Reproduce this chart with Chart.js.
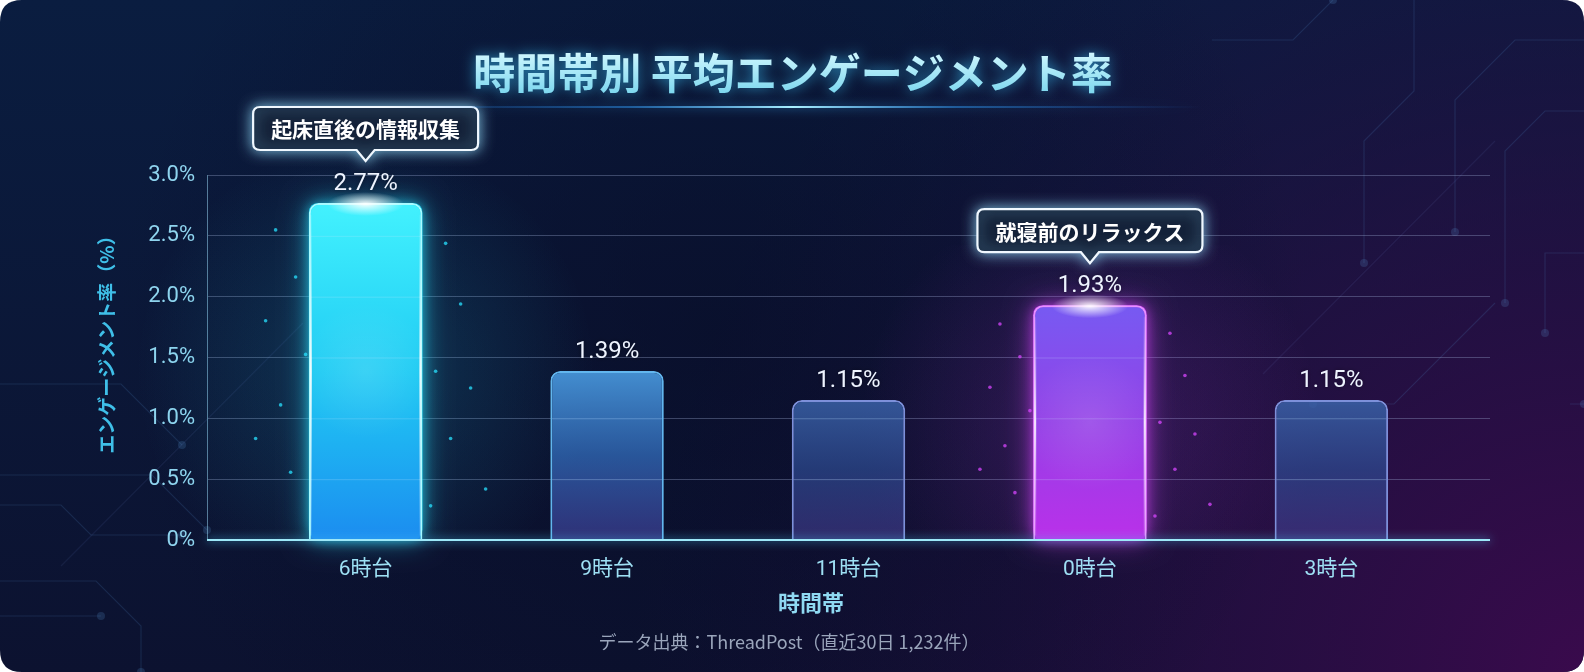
<!DOCTYPE html>
<html><head><meta charset="utf-8">
<script src="https://cdn.jsdelivr.net/npm/chart.js@4.4.1/dist/chart.umd.min.js"></script>
<style>html,body{margin:0;padding:0;background:#fff;overflow:hidden}canvas{display:block}</style>
</head><body>
<canvas id="c" width="1584" height="672"></canvas>
<script>
// ---- data ----
const categories = ['6時台','9時台','11時台','0時台','3時台'];
const values = [2.77, 1.39, 1.15, 1.93, 1.15];
const valueLabels = ['2.77%','1.39%','1.15%','1.93%','1.15%'];
const yTickValues = [0, 0.5, 1, 1.5, 2, 2.5, 3];
const yTickLabels = ['0%','0.5%','1.0%','1.5%','2.0%','2.5%','3.0%'];
const calloutIndex = [0, 3];
const calloutText = ['起床直後の情報収集', '就寝前のリラックス'];
const titleText = '時間帯別 平均エンゲージメント率';
const xTitleText = '時間帯';
const yTitleText = 'エンゲージメント率（%）';
const sourceText = 'データ出典：ThreadPost（直近30日 1,232件）';

// ---- styles ----
const JP = '"Noto Sans CJK JP", sans-serif';
const NUM = 'Roboto, "Noto Sans CJK JP", sans-serif';
const barFills = [
  ['rgba(70,245,255,0.9)', 'rgba(31,201,243,0.86)', 'rgba(26,132,239,0.9)'],
  ['rgba(74,156,226,0.9)', 'rgba(50,108,188,0.76)', 'rgba(62,62,150,0.7)'],
  ['rgba(58,98,168,0.86)', 'rgba(46,76,148,0.7)', 'rgba(66,58,140,0.64)'],
  ['rgba(109,93,242,0.9)', 'rgba(138,64,228,0.86)', 'rgba(184,46,232,0.9)'],
  ['rgba(58,98,168,0.86)', 'rgba(46,76,148,0.7)', 'rgba(66,58,140,0.64)']
];
const barBorders = ['#a6fbff', '#62b6ee', '#7d90da', '#e690ff', '#7d90da'];
const glowColors = ['rgba(40,225,255,1)', null, null, 'rgba(215,70,255,1)', null];

function rr(ctx, x, y, w, h, r) {
  ctx.beginPath();
  ctx.moveTo(x + r, y);
  ctx.lineTo(x + w - r, y); ctx.quadraticCurveTo(x + w, y, x + w, y + r);
  ctx.lineTo(x + w, y + h - r); ctx.quadraticCurveTo(x + w, y + h, x + w - r, y + h);
  ctx.lineTo(x + r, y + h); ctx.quadraticCurveTo(x, y + h, x, y + h - r);
  ctx.lineTo(x, y + r); ctx.quadraticCurveTo(x, y, x + r, y);
  ctx.closePath();
}

// background card + decoration
const bgPlugin = {
  id: 'bg',
  beforeDraw(chart) {
    const { ctx, width: W, height: H } = chart;
    ctx.save();
    ctx.fillStyle = '#ffffff'; ctx.fillRect(0, 0, W, H);
    rr(ctx, 0, 0, W, H, 22); ctx.clip();
    let g = ctx.createLinearGradient(0, 0, 0, H);
    g.addColorStop(0, '#0a1d40'); g.addColorStop(1, '#0c1230');
    ctx.fillStyle = g; ctx.fillRect(0, 0, W, H);
    let rg = ctx.createRadialGradient(W, H, 0, W, H, 950);
    rg.addColorStop(0, 'rgba(60,10,78,0.95)'); rg.addColorStop(0.5, 'rgba(45,12,70,0.55)'); rg.addColorStop(1, 'rgba(30,10,60,0)');
    ctx.fillStyle = rg; ctx.fillRect(0, 0, W, H);
    rg = ctx.createRadialGradient(W * 0.45, H * 0.5, 0, W * 0.45, H * 0.5, 600);
    rg.addColorStop(0, 'rgba(8,10,36,0.55)'); rg.addColorStop(1, 'rgba(8,10,36,0)');
    ctx.fillStyle = rg; ctx.fillRect(0, 0, W, H);

    ctx.lineWidth = 1.2;
    ctx.strokeStyle = 'rgba(90,150,210,0.16)';
    const paths = [
      [[0, 384], [121, 384], [182, 445]],
      [[0, 475], [152, 475], [207, 530]],
      [[0, 505], [61, 505], [91, 535], [182, 535]],
      [[0, 581], [96, 581], [141, 626], [141, 672]],
      [[0, 616], [101, 616]],
      [[1584, 40], [1515, 40], [1455, 100], [1455, 232]],
      [[1584, 111], [1545, 111], [1505, 151], [1505, 303]],
      [[1414, 0], [1414, 91], [1364, 141], [1364, 263]],
      [[1584, 253], [1545, 253], [1545, 333]],
      [[1212, 40], [1293, 40], [1333, 0]],
      [[1495, 303], [1394, 404], [1313, 404]],
      [[1570, 404], [1584, 404]]
    ];
    paths.forEach(p => {
      ctx.beginPath(); ctx.moveTo(p[0][0], p[0][1]);
      for (let i = 1; i < p.length; i++) ctx.lineTo(p[i][0], p[i][1]);
      ctx.stroke();
      const e = p[p.length - 1];
      ctx.beginPath(); ctx.arc(e[0], e[1], 4, 0, Math.PI * 2);
      ctx.fillStyle = 'rgba(90,150,210,0.2)'; ctx.fill();
    });
    ctx.strokeStyle = 'rgba(120,140,220,0.10)';
    ctx.beginPath(); ctx.moveTo(61, 566); ctx.lineTo(303, 323); ctx.stroke();
    ctx.beginPath(); ctx.moveTo(1263, 374); ctx.lineTo(1495, 141); ctx.stroke();
    ctx.restore();
  }
};

// glow behind highlighted bars, labels, callouts
const glowPlugin = {
  id: 'glow',
  beforeDatasetsDraw(chart) {
    const { ctx } = chart;
    const meta = chart.getDatasetMeta(0);
    ctx.save();
    meta.data.forEach((bar, i) => {
      const gc = glowColors[i];
      if (!gc) return;
      const { x, y, base, width } = bar.getProps(['x', 'y', 'base', 'width'], true);
      const rg = ctx.createRadialGradient(x, (y + base) / 2, 10, x, (y + base) / 2, 230);
      rg.addColorStop(0, gc.replace(',1)', ',0.16)'));
      rg.addColorStop(1, gc.replace(',1)', ',0)'));
      ctx.fillStyle = rg;
      ctx.fillRect(x - 260, y - 60, 520, base - y + 60);
      ctx.save();
      ctx.shadowColor = gc; ctx.shadowBlur = 28;
      ctx.fillStyle = gc.replace(',1)', ',0.55)');
      rr(ctx, x - width / 2, y, width, base - y, 10);
      ctx.fill();
      ctx.shadowBlur = 12; ctx.fill();
      ctx.restore();
      const pts = [[-90, 0.08], [-70, 0.22], [-100, 0.35], [-60, 0.45], [-85, 0.6], [-110, 0.7], [-75, 0.8],
                   [80, 0.12], [95, 0.3], [70, 0.5], [105, 0.55], [85, 0.7], [120, 0.85], [65, 0.9]];
      ctx.fillStyle = gc.replace(',1)', ',0.75)');
      pts.forEach(p => {
        ctx.beginPath(); ctx.arc(x + p[0], y + (base - y) * p[1], 1.8, 0, Math.PI * 2); ctx.fill();
      });
    });
    ctx.restore();
  },
  afterDatasetsDraw(chart) {
    const { ctx, chartArea } = chart;
    const meta = chart.getDatasetMeta(0);
    const yScale = chart.scales.y;
    ctx.save();
    ctx.strokeStyle = 'rgba(200,230,255,0.22)'; ctx.lineWidth = 1;
    meta.data.forEach((bar) => {
      const { x, y, width } = bar.getProps(['x', 'y', 'width'], true);
      yTickValues.forEach(v => {
        const py = yScale.getPixelForValue(v);
        if (py > y + 6 && py < chartArea.bottom - 2) {
          ctx.beginPath(); ctx.moveTo(x - width / 2 + 2, py + 0.5); ctx.lineTo(x + width / 2 - 2, py + 0.5); ctx.stroke();
        }
      });
    });
    meta.data.forEach((bar, i) => {
      const { x, y, base, width } = bar.getProps(['x', 'y', 'base', 'width'], true);
      if (glowColors[i]) {
        const l = x - width / 2, r = x + width / 2;
        [l + 2, r - 2].forEach(sx => {
          const lg = ctx.createLinearGradient(0, y, 0, base);
          lg.addColorStop(0, 'rgba(255,255,255,0)');
          lg.addColorStop(0.5, 'rgba(255,255,255,0.85)');
          lg.addColorStop(1, 'rgba(255,255,255,0.1)');
          ctx.strokeStyle = lg; ctx.lineWidth = 2;
          ctx.beginPath(); ctx.moveTo(sx, y + 12); ctx.lineTo(sx, base - 4); ctx.stroke();
        });
        const cg = ctx.createRadialGradient(x, (y + base) / 2, 0, x, (y + base) / 2, width * 0.6);
        cg.addColorStop(0, 'rgba(255,255,255,0.12)'); cg.addColorStop(1, 'rgba(255,255,255,0)');
        ctx.fillStyle = cg; ctx.fillRect(l, y, width, base - y);
        ctx.save();
        ctx.translate(x, y + 1); ctx.scale(3.2, 1);
        const tg = ctx.createRadialGradient(0, 0, 0, 0, 0, 12);
        tg.addColorStop(0, 'rgba(255,255,255,0.95)'); tg.addColorStop(1, 'rgba(255,255,255,0)');
        ctx.fillStyle = tg; ctx.beginPath(); ctx.arc(0, 0, 12, 0, Math.PI * 2); ctx.fill();
        ctx.restore();
      }
      ctx.font = '24px ' + NUM;
      ctx.fillStyle = '#eef4ff';
      ctx.textAlign = 'center'; ctx.textBaseline = 'middle';
      ctx.shadowColor = 'rgba(0,0,0,0.4)'; ctx.shadowBlur = 4;
      ctx.fillText(valueLabels[i], x, y - 19);
      ctx.shadowBlur = 0;
    });
    calloutIndex.forEach((idx, k) => {
      const { x, y } = meta.data[idx].getProps(['x', 'y'], true);
      ctx.font = 'bold 21px ' + JP;
      const tw = ctx.measureText(calloutText[k]).width;
      const w = tw + 36, h = 43;
      const bottom = y - 53, top = bottom - h, left = x - w / 2, rad = 7;
      const tipY = y - 42;
      ctx.beginPath();
      ctx.moveTo(left + rad, top);
      ctx.lineTo(left + w - rad, top); ctx.quadraticCurveTo(left + w, top, left + w, top + rad);
      ctx.lineTo(left + w, bottom - rad); ctx.quadraticCurveTo(left + w, bottom, left + w - rad, bottom);
      ctx.lineTo(x + 9, bottom); ctx.lineTo(x, tipY); ctx.lineTo(x - 9, bottom);
      ctx.lineTo(left + rad, bottom); ctx.quadraticCurveTo(left, bottom, left, bottom - rad);
      ctx.lineTo(left, top + rad); ctx.quadraticCurveTo(left, top, left + rad, top);
      ctx.closePath();
      ctx.fillStyle = 'rgba(10,20,42,0.92)';
      ctx.shadowColor = 'rgba(150,225,255,0.9)'; ctx.shadowBlur = 14;
      ctx.fill();
      ctx.strokeStyle = '#f0f8ff'; ctx.lineWidth = 2.2;
      ctx.stroke();
      ctx.shadowBlur = 0;
      ctx.fillStyle = '#ffffff';
      ctx.textAlign = 'center'; ctx.textBaseline = 'middle';
      ctx.fillText(calloutText[k], x, (top + bottom) / 2 + 1);
    });
    ctx.strokeStyle = '#9de8f8'; ctx.lineWidth = 2;
    ctx.shadowColor = 'rgba(80,210,255,0.9)'; ctx.shadowBlur = 8;
    ctx.beginPath(); ctx.moveTo(chartArea.left, chartArea.bottom); ctx.lineTo(chartArea.right, chartArea.bottom); ctx.stroke();
    ctx.restore();
  }
};

const textPlugin = {
  id: 'texts',
  afterDraw(chart) {
    const { ctx } = chart;
    ctx.save();
    ctx.font = 'bold 42px ' + JP;
    ctx.textAlign = 'center'; ctx.textBaseline = 'middle';
    const tg = ctx.createLinearGradient(0, 51, 0, 95);
    tg.addColorStop(0, '#d2f8ff'); tg.addColorStop(1, '#7ad6ee');
    ctx.shadowColor = 'rgba(60,200,255,0.7)'; ctx.shadowBlur = 14;
    ctx.fillStyle = tg;
    ctx.fillText(titleText, 793, 73);
    ctx.shadowBlur = 0;
    const lg = ctx.createLinearGradient(384, 0, 1202, 0);
    lg.addColorStop(0, 'rgba(40,140,255,0)');
    lg.addColorStop(0.3, 'rgba(50,160,255,0.45)');
    lg.addColorStop(0.5, 'rgba(170,240,255,1)');
    lg.addColorStop(0.7, 'rgba(50,160,255,0.45)');
    lg.addColorStop(1, 'rgba(40,140,255,0)');
    ctx.strokeStyle = lg; ctx.lineWidth = 2;
    ctx.shadowColor = 'rgba(60,180,255,0.9)'; ctx.shadowBlur = 10;
    ctx.beginPath(); ctx.moveTo(384, 107); ctx.lineTo(1202, 107); ctx.stroke();
    ctx.shadowBlur = 0;
    ctx.font = 'bold 22px ' + JP;
    ctx.fillStyle = '#8fd9f2';
    ctx.fillText(xTitleText, 811, 603);
    ctx.save();
    ctx.translate(107, 340);
    ctx.rotate(-Math.PI / 2);
    ctx.font = 'bold 19px ' + JP;
    ctx.fillStyle = '#3fbfe8';
    ctx.fillText(yTitleText, 0, 0);
    ctx.restore();
    ctx.font = '18px ' + JP;
    ctx.fillStyle = '#9aa5bb';
    ctx.fillText(sourceText, 789, 642);
    ctx.restore();
  }
};

function barFill(c) {
  const i = c.dataIndex;
  const chart = c.chart;
  if (!chart.chartArea || !chart.scales.y) return barFills[i][1];
  const top = chart.scales.y.getPixelForValue(values[i]);
  const bot = chart.scales.y.getPixelForValue(0);
  const g = chart.ctx.createLinearGradient(0, top, 0, bot);
  g.addColorStop(0, barFills[i][0]);
  g.addColorStop(0.5, barFills[i][1]);
  g.addColorStop(1, barFills[i][2]);
  return g;
}

new Chart(document.getElementById('c'), {
  type: 'bar',
  data: {
    datasets: [{
      data: values.map((v, i) => ({ x: i, y: v })),
      backgroundColor: barFill,
      borderColor: barBorders,
      borderWidth: 2,
      borderSkipped: 'bottom',
      borderRadius: { topLeft: 10, topRight: 10, bottomLeft: 0, bottomRight: 0 },
      barPercentage: 0.47,
      categoryPercentage: 1
    }]
  },
  options: {
    responsive: false,
    animation: false,
    devicePixelRatio: 1,
    layout: { padding: { top: 175, right: 94, left: 0, bottom: 0 } },
    plugins: { legend: { display: false }, tooltip: { enabled: false }, title: { display: false } },
    scales: {
      x: {
        type: 'linear',
        min: -0.657, max: 4.657,
        offset: false,
        grid: { display: false, offset: false },
        border: { display: false },
        afterFit(s) { s.height = 132; },
        ticks: {
          stepSize: 1, includeBounds: false, autoSkip: false, maxRotation: 0, padding: 9,
          color: '#9ee0f4', font: { size: 21, family: NUM },
          callback: v => (Number.isInteger(v) && categories[v] !== undefined) ? categories[v] : ''
        }
      },
      y: {
        min: 0, max: 3,
        afterFit(s) { s.width = 207; },
        afterBuildTicks(s) { s.ticks = yTickValues.map(v => ({ value: v })); },
        grid: { color: 'rgba(165,180,220,0.33)', lineWidth: 1, drawTicks: false },
        border: { display: true, color: 'rgba(150,205,235,0.55)', width: 1 },
        ticks: {
          padding: 12, color: '#8fd4ee', font: { size: 22, family: NUM },
          callback: (v) => yTickLabels[yTickValues.indexOf(v)]
        }
      }
    }
  },
  plugins: [bgPlugin, glowPlugin, textPlugin]
});
</script>
</body></html>
